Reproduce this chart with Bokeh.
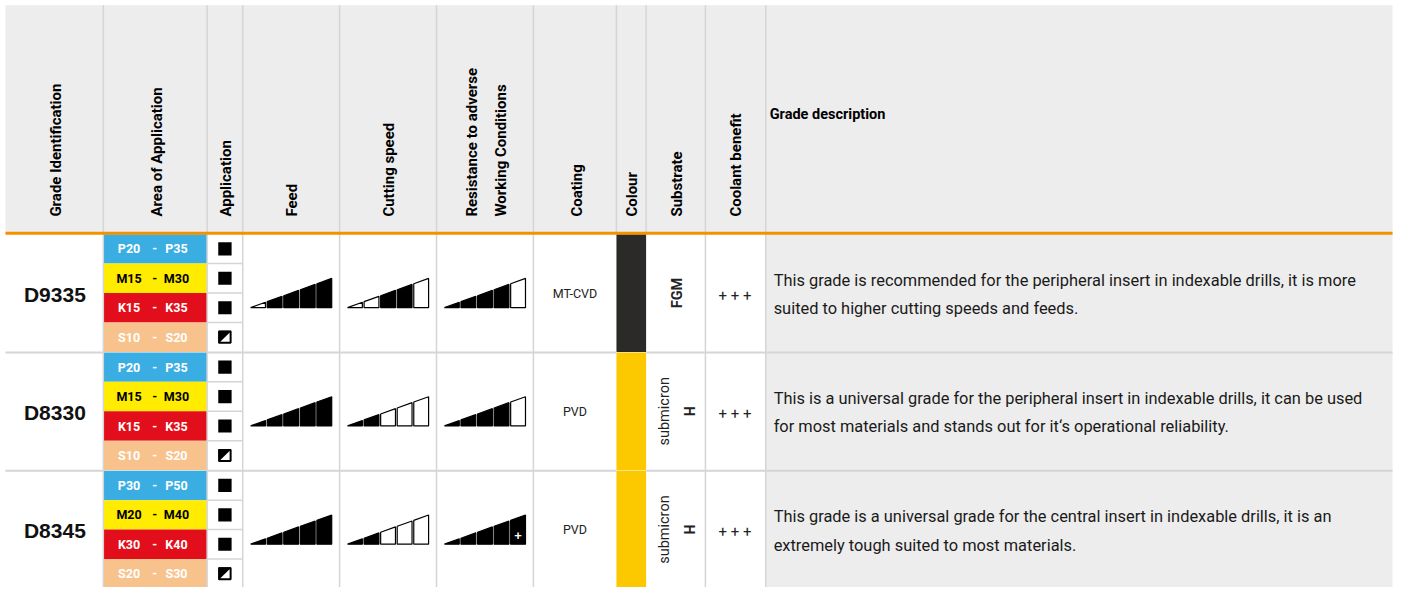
import math
from bokeh.plotting import figure
from bokeh.models import Range1d
from bokeh.core.properties import value
from bokeh.embed import file_html
from bokeh.resources import INLINE

# ---------------- data ----------------
headers = ["Grade Identification", "Area of Application", "Application", "Feed",
           "Cutting speed", "Resistance to adverse\nWorking Conditions", "Coating",
           "Colour", "Substrate", "Coolant benefit", "Grade description"]
grades = ["D9335", "D8330", "D8345"]
area_P = [("P20", "P35"), ("P20", "P35"), ("P30", "P50")]
area_M = [("M15", "M30"), ("M15", "M30"), ("M20", "M40")]
area_K = [("K15", "K35"), ("K15", "K35"), ("K30", "K40")]
area_S = [("S10", "S20"), ("S10", "S20"), ("S20", "S30")]
application = [["full", "full", "full", "half"],
               ["full", "full", "full", "half"],
               ["full", "full", "full", "half"]]
feed = [[0, 1, 1, 1, 1], [1, 1, 1, 1, 1], [1, 1, 1, 1, 1]]
cutting_speed = [[0, 0, 1, 1, 0], [1, 1, 0, 0, 0], [1, 1, 0, 0, 0]]
resistance = [[1, 1, 1, 1, 0], [1, 1, 1, 1, 0], [1, 1, 1, 1, 1]]
resistance_plus = [False, False, True]
coating = ["MT-CVD", "PVD", "PVD"]
colour = ["#2B2A29", "#FCC800", "#FCC800"]
substrate_main = ["FGM", "submicron", "submicron"]
substrate_sub = ["", "H", "H"]
coolant = ["+ + +", "+ + +", "+ + +"]
descriptions = [
    ("This grade is recommended for the peripheral insert in indexable drills, it is more",
     "suited to higher cutting speeds and feeds."),
    ("This is a universal grade for the peripheral insert in indexable drills, it can be used",
     "for most materials and stands out for it\u2018s operational reliability."),
    ("This grade is a universal grade for the central insert in indexable drills, it is an",
     "extremely tough suited to most materials."),
]
band_colors = ["#3AAEE2", "#FFEC00", "#E30E1C", "#F8C28D"]
band_text = ["white", "black", "white", "white"]

# ---------------- layout (reference pixel space) ----------------
W, H = 1397, 587
RW, RH = 1413, 603
edges = [5, 104, 209, 245, 343, 441, 539, 623, 653, 713, 774, 1408]
htop, hbot = 5, 238
row_tops = [240, 361.5, 483]
row_h = 121
GRID = "#D5D5D5"
BG = "#EDEDED"
FONT = value("Roboto")
ORANGE = "#F39200"

p = figure(width=W, height=H, x_range=Range1d(0, RW), y_range=Range1d(RH, 0),
           output_backend="svg", toolbar_location=None, min_border=0)
p.axis.visible = False
p.grid.visible = False
p.outline_line_color = None
p.background_fill_color = "white"
p.border_fill_color = "white"

def cx(i):
    return (edges[i] + edges[i + 1]) / 2

# header background
p.quad(left=[edges[0]], right=[edges[-1]], top=[htop], bottom=[hbot], fill_color=BG, line_color=None)
# description body background
p.quad(left=[edges[10]], right=[edges[11]], top=[hbot], bottom=[RH], fill_color=BG, line_color=None)

# colour column
for r in range(3):
    bot = row_tops[r] + row_h if r < 2 else RH
    p.quad(left=[edges[7]], right=[edges[8]], top=[row_tops[r]], bottom=[bot],
           fill_color=colour[r], line_color=None)

# area of application bands
sub_h = row_h / 4
for r in range(3):
    areas = [area_P[r], area_M[r], area_K[r], area_S[r]]
    for k in range(4):
        t = row_tops[r] + k * sub_h
        p.quad(left=[edges[1]], right=[edges[2]], top=[t], bottom=[min(t + sub_h, RH)],
               fill_color=band_colors[k], line_color=None)
        yc = t + sub_h / 2
        a, b = areas[k]
        p.text(x=[130, 156, 178], y=[yc, yc, yc], text=[a, "-", b],
               text_font=FONT, text_font_style="bold", text_font_size="12.5px",
               text_color=band_text[k], text_align="center", text_baseline="middle")

# vertical grid lines
for i, e in enumerate(edges[1:-1], start=1):
    if i in (2, 7, 8):
        p.segment(x0=[e], y0=[htop], x1=[e], y1=[hbot], line_color=GRID, line_width=1.5)
        if i == 2:
            p.segment(x0=[e], y0=[hbot], x1=[e], y1=[RH], line_color=GRID, line_width=1.5)
        continue
    p.segment(x0=[e], y0=[htop], x1=[e], y1=[RH], line_color=GRID, line_width=1.5)

# row separators
for r in (1, 2):
    y = row_tops[r]
    p.segment(x0=[edges[0], edges[2], edges[8]], y0=[y, y, y],
              x1=[edges[1], edges[7], edges[11]], y1=[y, y, y], line_color=GRID, line_width=2)
# application sub-row lines
for r in range(3):
    for k in (1, 2, 3):
        y = row_tops[r] + k * sub_h
        p.segment(x0=[edges[2]], y0=[y], x1=[edges[3]], y1=[y], line_color=GRID, line_width=1.5)

# orange line under header
p.segment(x0=[edges[0]], y0=[hbot + 1], x1=[edges[-1]], y1=[hbot + 1], line_color=ORANGE, line_width=3)

# header texts
hdr_x = [56, 158, 228, 295, 393, None, 583, 639, 684, 744]
HSIZE = "15px"
for i, h in enumerate(headers[:10]):
    if "\n" in h:
        l1, l2 = h.split("\n")
        p.text(x=[477, 506], y=[222, 222], text=[l1, l2], angle=math.pi / 2,
               text_font=FONT, text_font_style="bold", text_font_size=HSIZE,
               text_color="black", text_align="left", text_baseline="middle")
    else:
        p.text(x=[hdr_x[i]], y=[222], text=[h], angle=math.pi / 2,
               text_font=FONT, text_font_style="bold", text_font_size=HSIZE,
               text_color="black", text_align="left", text_baseline="middle")
p.text(x=[778], y=[117], text=[headers[10]], text_font=FONT, text_font_style="bold",
       text_font_size="14.5px", text_color="black", text_align="left", text_baseline="middle")

# body rows
BW, GAP, BH = 15, 1.75, 30
for r in range(3):
    yc = row_tops[r] + row_h / 2
    # grade id
    p.text(x=[55], y=[yc + 1], text=[grades[r]], text_font=value("Liberation Sans"),
           text_font_style="bold", text_font_size="21px", text_color="#111111",
           text_align="center", text_baseline="middle")
    # application icons
    for k in range(4):
        sy = row_tops[r] + k * sub_h + sub_h / 2
        s = 13.5
        if application[r][k] == "full":
            p.quad(left=[227 - s / 2], right=[227 + s / 2], top=[sy - s / 2], bottom=[sy + s / 2],
                   fill_color="black", line_color=None)
        else:
            p.quad(left=[227 - s / 2 + 1], right=[227 + s / 2 - 1], top=[sy - s / 2 + 1],
                   bottom=[sy + s / 2 - 1], fill_color="white", line_color="black", line_width=2)
            p.patch(x=[227 - s / 2, 227 + s / 2, 227 - s / 2], y=[sy - s / 2, sy - s / 2, sy + s / 2],
                    fill_color="black", line_color=None)
    # bar groups
    base = yc + 15
    for col, levels in ((3, feed[r]), (4, cutting_speed[r]), (5, resistance[r])):
        tot = 5 * BW + 4 * GAP
        gx = cx(col) - tot / 2
        xs, ys, fills = [], [], []
        for i, lv in enumerate(levels):
            x0 = gx + i * (BW + GAP)
            x1 = x0 + BW
            h0 = BH * (x0 - gx) / tot
            h1 = BH * (x1 - gx) / tot
            xs.append([x0, x1, x1, x0])
            ys.append([base, base, base - h1, base - h0])
            fills.append("black" if lv else "white")
        p.patches(xs=xs, ys=ys, fill_color=fills, line_color="black", line_width=1.2)
        if col == 5 and resistance_plus[r]:
            px = gx + 4 * (BW + GAP) + BW / 2
            p.text(x=[px], y=[base - 9], text=["+"], text_font=value("Liberation Sans"),
                   text_font_style="bold", text_font_size="13px", text_color="white",
                   text_align="center", text_baseline="middle")
    # coating
    p.text(x=[581], y=[yc], text=[coating[r]], text_font=FONT, text_font_size="12.5px",
           text_color="#222222", text_align="center", text_baseline="middle")
    # substrate
    if substrate_sub[r]:
        p.text(x=[672], y=[yc], text=[substrate_main[r]], angle=math.pi / 2, text_font=FONT,
               text_font_size="14.5px", text_color="#222222", text_align="center", text_baseline="middle")
        p.text(x=[697], y=[yc], text=[substrate_sub[r]], angle=math.pi / 2, text_font=FONT,
               text_font_style="bold", text_font_size="14px", text_color="#222222",
               text_align="center", text_baseline="middle")
    else:
        p.text(x=[685], y=[yc], text=[substrate_main[r]], angle=math.pi / 2, text_font=FONT,
               text_font_style="bold", text_font_size="14.5px", text_color="#222222",
               text_align="center", text_baseline="middle")
    # coolant
    p.text(x=[743], y=[yc + 3], text=[coolant[r]], text_font=FONT, text_font_size="15px",
           text_color="#222222", text_align="center", text_baseline="middle")
    # description
    l1, l2 = descriptions[r]
    p.text(x=[782, 782], y=[yc - 13, yc + 16], text=[l1, l2], text_font=FONT,
           text_font_size="16.4px", text_color="#1a1a1a", text_align="left", text_baseline="middle")

open("out.html", "w").write(file_html(p, INLINE))
